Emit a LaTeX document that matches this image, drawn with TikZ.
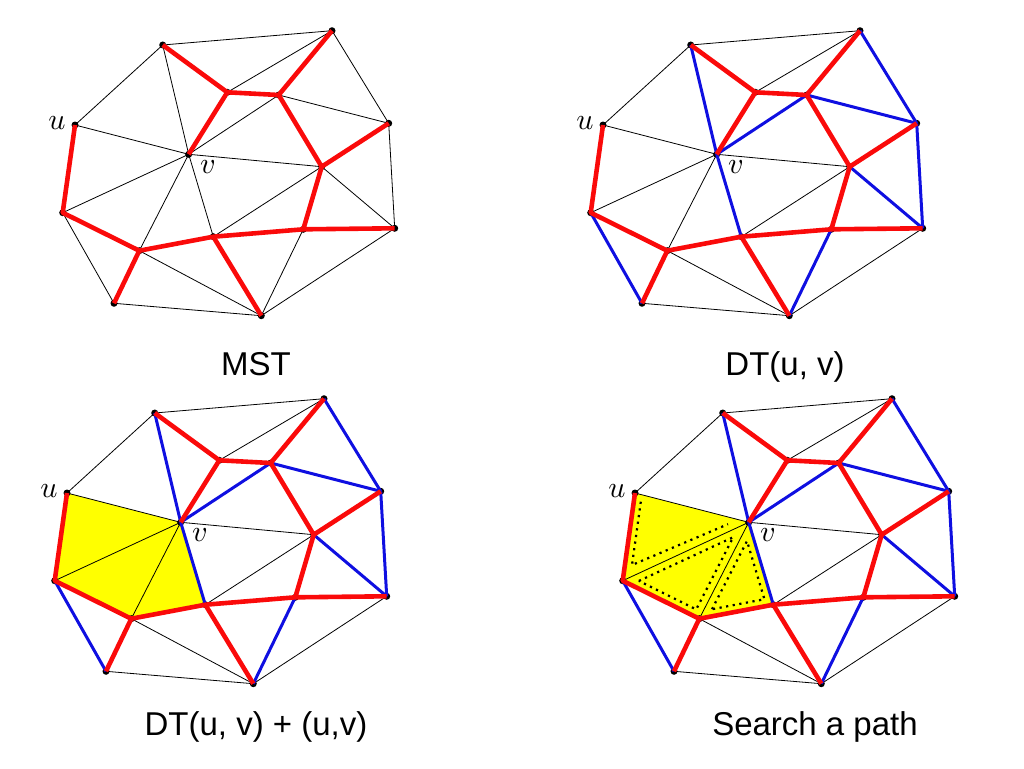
\documentclass[tikz,border=0pt]{standalone}
\usepackage{fontspec}
\setmainfont{Liberation Sans}
\usetikzlibrary{calc}
\definecolor{mstred}{RGB}{250,10,10}
\definecolor{dtblue}{RGB}{15,15,225}
\definecolor{fillyellow}{RGB}{255,255,0}
\tikzset{
 thinedge/.style={line width=0.8pt, draw=black},
 mstedge/.style={line width=4.6pt, draw=mstred, line join=round},
 dtedge/.style={line width=3pt, draw=dtblue, line join=round},
 captiontext/.style={font=\fontsize{33}{40}\selectfont, anchor=base, inner sep=0pt},
 vlabel/.style={scale=3, inner sep=0pt},
 searchdots/.style={line width=2.2pt, draw=black, dash pattern=on 2.2pt off 4.5pt},
 region/.style={fill=fillyellow},
}
\newcommand{\mkpts}[1]{%
 \coordinate (#1A) at (162.7,45);
 \coordinate (#1B) at (332,30.7);
 \coordinate (#1C) at (227.3,92.3);
 \coordinate (#1D) at (278.7,95);
 \coordinate (#1E) at (388.7,123.3);
 \coordinate (#1u) at (75,125);
 \coordinate (#1v) at (188.7,154.3);
 \coordinate (#1F) at (321.7,166.7);
 \coordinate (#1G) at (62.7,212.7);
 \coordinate (#1H) at (213.3,236.7);
 \coordinate (#1M) at (303.3,229.3);
 \coordinate (#1I) at (394.7,228.3);
 \coordinate (#1J) at (139.3,250.7);
 \coordinate (#1K) at (114,303.3);
 \coordinate (#1L) at (261.3,315.7);
 \coordinate (#1upos) at (57,123.5);
 \coordinate (#1vpos) at (208,167);
}
\newcommand{\mkdots}[1]{%
 \foreach \p in {A,B,C,D,E,u,v,F,G,H,M,I,J,K,L}
   \fill[black] (#1\p) circle[radius=3.5pt];
}
\newcommand{\mkthin}[1]{%
 \foreach \p/\q in {A/B,A/u,A/v,A/C,B/C,B/D,B/E,C/D,C/v,D/v,D/E,D/F,E/F,E/I,u/v,u/G,v/G,v/F,v/H,v/J,G/J,G/K,F/H,F/M,F/I,H/M,M/I,H/J,H/L,J/K,J/L,K/L,M/L,I/L}
   \draw[thinedge] (#1\p) -- (#1\q);
}
\newcommand{\mkblue}[1]{%
 \foreach \p/\q in {A/v,v/H,v/D,D/E,B/E,E/I,F/I,M/L,G/K}
   \draw[dtedge] (#1\p) -- (#1\q);
}
\newcommand{\mkred}[1]{%
 \draw[mstedge] (#1A) -- (#1C) -- (#1D) -- (#1B);
 \draw[mstedge] (#1C) -- (#1v);
 \draw[mstedge] (#1D) -- (#1F) -- (#1E);
 \draw[mstedge] (#1F) -- (#1M) -- (#1I);
 \draw[mstedge] (#1u) -- (#1G) -- (#1J) -- (#1H) -- (#1M);
 \draw[mstedge] (#1J) -- (#1K);
 \draw[mstedge] (#1H) -- (#1L);
}
\newcommand{\mklabels}[1]{%
 \node[vlabel] (#1ulab) at (#1upos) {$u$};
 \node[vlabel] (#1vlab) at (#1vpos) {$v$};
}
\newcommand{\mkregion}[1]{%
 \fill[region] (#1u) -- (#1v) -- (#1H) -- (#1J) -- (#1G) -- cycle;
}
\newcommand{\mksearch}[1]{%
 \coordinate (#1ta) at (80.8,133.7);
 \coordinate (#1tb) at (72,197);
 \coordinate (#1tc) at (168,156.2);
 \coordinate (#1sa) at (78.9,212.9);
 \coordinate (#1sb) at (173.2,169.2);
 \coordinate (#1sc) at (136.2,241.4);
 \coordinate (#1ra) at (152,241.2);
 \coordinate (#1rb) at (187,173);
 \coordinate (#1rc) at (204.4,231.2);
 \draw[searchdots] (#1ta) -- (#1tb) -- (#1tc);
 \draw[searchdots] (#1sa) -- (#1sb) -- (#1sc) -- cycle;
 \draw[searchdots] (#1ra) -- (#1rb) -- (#1rc) -- cycle;
}
\begin{document}
\begin{tikzpicture}[x=1pt,y=-1pt]
\useasboundingbox (0,0) rectangle (1024,768);
\begin{scope}[shift={(0,0)}]
 \mkpts{a}\mkdots{a}\mkthin{a}\mkred{a}\mklabels{a}
\end{scope}
\begin{scope}[shift={(528,0)}]
 \mkpts{b}\mkdots{b}\mkthin{b}\mkblue{b}\mkred{b}\mklabels{b}
\end{scope}
\begin{scope}[shift={(-8,368)}]
 \mkpts{c}\mkregion{c}\mkdots{c}\mkthin{c}\mkblue{c}\mkred{c}\mklabels{c}
\end{scope}
\begin{scope}[shift={(560,368)}]
 \mkpts{d}\mkregion{d}\mksearch{d}\mkdots{d}\mkthin{d}\mkblue{d}\mkred{d}\mklabels{d}
\end{scope}
\node[captiontext] (cap1) at (256,375) {MST};
\node[captiontext] (cap2) at (785,375) {DT(u, v)};
\node[captiontext] (cap3) at (256,735) {DT(u, v) + (u,v)};
\node[captiontext] (cap4) at (815,735) {Search a path};
\end{tikzpicture}
\end{document}
